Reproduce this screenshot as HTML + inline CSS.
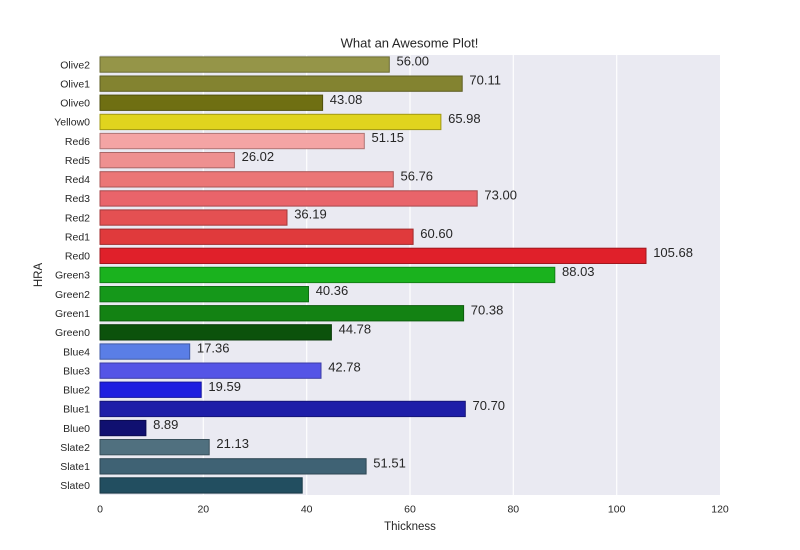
<!DOCTYPE html>
<html><head><meta charset="utf-8"><style>
html,body{margin:0;padding:0;background:#fff;}
svg{display:block;font-family:"Liberation Sans",Arial,sans-serif;}
</style></head><body>
<svg width="800" height="550" viewBox="0 0 800 550" xmlns="http://www.w3.org/2000/svg">
<rect x="0" y="0" width="800" height="550" fill="#ffffff"/>
<rect x="100" y="55" width="620" height="440" fill="#eaeaf2"/>
<g stroke="#ffffff" stroke-width="1.1">
<line x1="203.3" y1="55" x2="203.3" y2="495"/>
<line x1="306.7" y1="55" x2="306.7" y2="495"/>
<line x1="410" y1="55" x2="410" y2="495"/>
<line x1="513.3" y1="55" x2="513.3" y2="495"/>
<line x1="616.7" y1="55" x2="616.7" y2="495"/>
</g>
<g stroke-width="1">
<rect x="100" y="56.9" width="289.3" height="15.3" fill="#959548" stroke="#6b6b34"/>
<rect x="100" y="76.0" width="362.2" height="15.3" fill="#838330" stroke="#5e5e22"/>
<rect x="100" y="95.1" width="222.6" height="15.3" fill="#6f6f12" stroke="#4f4f0c"/>
<rect x="100" y="114.3" width="340.9" height="15.3" fill="#e0d41e" stroke="#a19815"/>
<rect x="100" y="133.4" width="264.3" height="15.3" fill="#f4a4a4" stroke="#ae7575"/>
<rect x="100" y="152.5" width="134.4" height="15.3" fill="#ee9090" stroke="#aa6767"/>
<rect x="100" y="171.7" width="293.3" height="15.3" fill="#eb7676" stroke="#a85555"/>
<rect x="100" y="190.8" width="377.2" height="15.3" fill="#e9646a" stroke="#a7484c"/>
<rect x="100" y="209.9" width="187.0" height="15.3" fill="#e45052" stroke="#a3393b"/>
<rect x="100" y="229.1" width="313.1" height="15.3" fill="#e03a3c" stroke="#a02a2b"/>
<rect x="100" y="248.2" width="546.0" height="15.3" fill="#e0202a" stroke="#a0171e"/>
<rect x="100" y="267.3" width="454.8" height="15.3" fill="#1ab21e" stroke="#138016"/>
<rect x="100" y="286.5" width="208.5" height="15.3" fill="#15981a" stroke="#0f6d13"/>
<rect x="100" y="305.6" width="363.6" height="15.3" fill="#138213" stroke="#0e5d0e"/>
<rect x="100" y="324.7" width="231.4" height="15.3" fill="#0c520c" stroke="#093b09"/>
<rect x="100" y="343.9" width="89.7" height="15.3" fill="#5a7ee6" stroke="#405aa5"/>
<rect x="100" y="363.0" width="221.0" height="15.3" fill="#5454e6" stroke="#3c3ca5"/>
<rect x="100" y="382.1" width="101.2" height="15.3" fill="#1e1ee0" stroke="#1515a0"/>
<rect x="100" y="401.3" width="365.3" height="15.3" fill="#1e1ea8" stroke="#151578"/>
<rect x="100" y="420.4" width="45.9" height="15.3" fill="#101070" stroke="#0b0b50"/>
<rect x="100" y="439.5" width="109.2" height="15.3" fill="#50707f" stroke="#39505b"/>
<rect x="100" y="458.7" width="266.1" height="15.3" fill="#3f6274" stroke="#2d4653"/>
<rect x="100" y="477.8" width="202.2" height="15.3" fill="#224e60" stroke="#183845"/>
</g>
<g font-size="13" fill="#262626">
<text x="396.5" y="65.6">56.00</text>
<text x="469.4" y="84.7">70.11</text>
<text x="329.8" y="103.8">43.08</text>
<text x="448.1" y="123.0">65.98</text>
<text x="371.5" y="142.1">51.15</text>
<text x="241.6" y="161.2">26.02</text>
<text x="400.5" y="180.4">56.76</text>
<text x="484.4" y="199.5">73.00</text>
<text x="294.2" y="218.6">36.19</text>
<text x="420.3" y="237.8">60.60</text>
<text x="653.2" y="256.9">105.68</text>
<text x="562.0" y="276.0">88.03</text>
<text x="315.7" y="295.2">40.36</text>
<text x="470.8" y="314.3">70.38</text>
<text x="338.6" y="333.4">44.78</text>
<text x="196.9" y="352.6">17.36</text>
<text x="328.2" y="371.7">42.78</text>
<text x="208.4" y="390.8">19.59</text>
<text x="472.5" y="410.0">70.70</text>
<text x="153.1" y="429.1">8.89</text>
<text x="216.4" y="448.2">21.13</text>
<text x="373.3" y="467.4">51.51</text>
</g>
<g font-size="10.5" fill="#262626" text-anchor="end">
<text x="90" y="68.3">Olive2</text>
<text x="90" y="87.4">Olive1</text>
<text x="90" y="106.5">Olive0</text>
<text x="90" y="125.7">Yellow0</text>
<text x="90" y="144.8">Red6</text>
<text x="90" y="163.9">Red5</text>
<text x="90" y="183.1">Red4</text>
<text x="90" y="202.2">Red3</text>
<text x="90" y="221.3">Red2</text>
<text x="90" y="240.5">Red1</text>
<text x="90" y="259.6">Red0</text>
<text x="90" y="278.7">Green3</text>
<text x="90" y="297.9">Green2</text>
<text x="90" y="317.0">Green1</text>
<text x="90" y="336.1">Green0</text>
<text x="90" y="355.3">Blue4</text>
<text x="90" y="374.4">Blue3</text>
<text x="90" y="393.5">Blue2</text>
<text x="90" y="412.7">Blue1</text>
<text x="90" y="431.8">Blue0</text>
<text x="90" y="450.9">Slate2</text>
<text x="90" y="470.1">Slate1</text>
<text x="90" y="489.2">Slate0</text>
</g>
<g font-size="10.5" fill="#262626" text-anchor="middle">
<text x="100" y="512.3">0</text>
<text x="203.3" y="512.3">20</text>
<text x="306.7" y="512.3">40</text>
<text x="410" y="512.3">60</text>
<text x="513.3" y="512.3">80</text>
<text x="616.7" y="512.3">100</text>
<text x="720" y="512.3">120</text>
</g>
<text x="410" y="530" font-size="11.5" fill="#262626" text-anchor="middle">Thickness</text>
<text x="0" y="0" font-size="11.5" fill="#262626" text-anchor="middle" transform="translate(42,275) rotate(-90)">HRA</text>
<text x="409.5" y="47.3" font-size="13" fill="#262626" text-anchor="middle">What an Awesome Plot!</text>
</svg>
</body></html>
